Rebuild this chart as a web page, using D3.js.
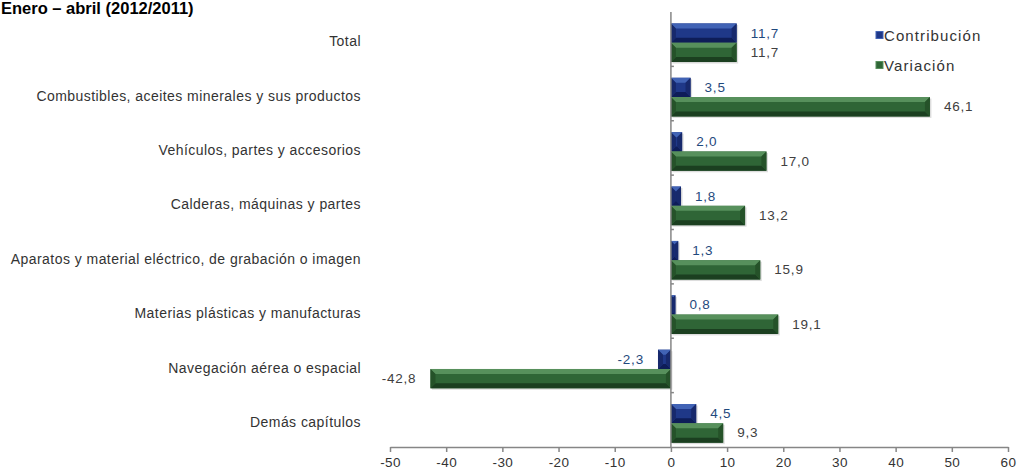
<!DOCTYPE html>
<html>
<head>
<meta charset="utf-8">
<script src="https://cdn.jsdelivr.net/npm/d3@7"></script>
<style>
  html, body { margin: 0; padding: 0; background: #fff; }
  svg { display: block; font-family: "Liberation Sans", Arial, sans-serif; }
</style>
</head>
<body>
<svg id="chart" width="1019" height="471"></svg>
<script>
const title = "Enero – abril (2012/2011)";
const categories = [
  "Total",
  "Combustibles, aceites minerales y sus productos",
  "Vehículos, partes y accesorios",
  "Calderas, máquinas y partes",
  "Aparatos y material eléctrico, de grabación o imagen",
  "Materias plásticas y manufacturas",
  "Navegación aérea o espacial",
  "Demás capítulos"
];
const seriesNames = ["Contribución", "Variación"];
const contribucion = [11.7, 3.5, 2.0, 1.8, 1.3, 0.8, -2.3, 4.5];
const variacion = [11.7, 46.1, 17.0, 13.2, 15.9, 19.1, -42.8, 9.3];
const xTicks = [-50, -40, -30, -20, -10, 0, 10, 20, 30, 40, 50, 60];

const svg = d3.select("#chart");

const x = d3.scaleLinear().domain([-50, 60]).range([390, 1008]);
const y0 = d3.scaleBand().domain(categories).range([12, 447]).paddingInner(0).paddingOuter(0);
const bw = y0.bandwidth();
const y1 = d3.scaleBand().domain(seriesNames).range([bw * 0.21, bw * 0.92]);

const fmt = v => d3.format(".1f")(v).replace(".", ",").replace("−", "-");

const palette = {
  "Contribución": { top: "#4163b5", face: "#1f3888", bottom: "#0e1d58", side: "#17296c", label: "#1f497d" },
  "Variación":    { top: "#57905c", face: "#2f6536", bottom: "#1b3f20", side: "#255229", label: "#404040" }
};

// Title
svg.append("text")
  .attr("x", 1).attr("y", 14)
  .attr("font-size", 16.5).attr("font-weight", "bold").attr("fill", "#000")
  .text(title);

// Category labels
svg.append("g").selectAll("text")
  .data(categories).join("text")
  .attr("x", 361)
  .attr("y", d => y0(d) + bw * 0.54)
  .attr("text-anchor", "end")
  .attr("dominant-baseline", "central")
  .attr("font-size", 14)
  .attr("letter-spacing", 0.45)
  .attr("fill", "#333")
  .text(d => d);

// Bars with bevel
function bevelBar(g, x0, yy, w, h, c) {
  const b = Math.max(0, Math.min(5, w / 2, h / 2));
  const X1 = x0, X2 = x0 + w, Y1 = yy, Y2 = yy + h;
  const P = pts => pts.map(p => p.join(",")).join(" ");
  g.append("rect").attr("x", X1 + 1.5).attr("y", Y1 + 1.5).attr("width", w).attr("height", h)
    .attr("fill", "#bbb").attr("opacity", 0.5);
  g.append("rect").attr("x", X1).attr("y", Y1).attr("width", w).attr("height", h).attr("fill", c.face);
  g.append("polygon").attr("points", P([[X1, Y1], [X2, Y1], [X2 - b, Y1 + b], [X1 + b, Y1 + b]])).attr("fill", c.top);
  g.append("polygon").attr("points", P([[X1, Y2], [X2, Y2], [X2 - b, Y2 - b], [X1 + b, Y2 - b]])).attr("fill", c.bottom);
  g.append("polygon").attr("points", P([[X1, Y1], [X1 + b, Y1 + b], [X1 + b, Y2 - b], [X1, Y2]])).attr("fill", c.side);
  g.append("polygon").attr("points", P([[X2, Y1], [X2 - b, Y1 + b], [X2 - b, Y2 - b], [X2, Y2]])).attr("fill", c.side);
}

const rows = categories.map((cat, i) => ({
  cat,
  vals: [
    { s: "Contribución", v: contribucion[i] },
    { s: "Variación", v: variacion[i] }
  ]
}));

const barsG = svg.append("g");
rows.forEach(r => {
  r.vals.forEach(d => {
    const c = palette[d.s];
    const xa = x(Math.min(0, d.v)), xb = x(Math.max(0, d.v));
    const yy = y0(r.cat) + y1(d.s);
    const h = y1.bandwidth();
    bevelBar(barsG, xa, yy, xb - xa, h, c);
    barsG.append("text")
      .attr("x", d.v >= 0 ? x(d.v) + 14 : x(d.v) - 14)
      .attr("y", yy + h / 2)
      .attr("text-anchor", d.v >= 0 ? "start" : "end")
      .attr("dominant-baseline", "central")
      .attr("font-size", 13.5)
      .attr("letter-spacing", 0.8)
      .attr("fill", c.label)
      .text(fmt(d.v));
  });
});

// X axis
const xAxis = svg.append("g").attr("transform", "translate(0,447)")
  .call(d3.axisBottom(x).tickValues(xTicks).tickSize(5).tickSizeOuter(0).tickFormat(d => String(d)));
xAxis.select(".domain").attr("stroke", "#868686").attr("stroke-width", 1.5);
xAxis.selectAll(".tick line").attr("stroke", "#868686").attr("stroke-width", 1.5);
xAxis.selectAll(".tick text")
  .attr("font-size", 13.5).attr("fill", "#333").attr("dy", "0.9em")
  .attr("font-family", "Liberation Sans, Arial, sans-serif").attr("letter-spacing", 0.4);

// Y axis (category axis at zero)
const yAxis = svg.append("g").attr("transform", `translate(${x(0)},0)`);
yAxis.append("line").attr("x1", 0).attr("x2", 0).attr("y1", 12).attr("y2", 447)
  .attr("stroke", "#868686").attr("stroke-width", 1.5);
yAxis.selectAll("line.tk").data(categories.slice(1)).join("line").attr("class", "tk")
  .attr("x1", 0).attr("x2", 3).attr("y1", d => y0(d)).attr("y2", d => y0(d))
  .attr("stroke", "#868686").attr("stroke-width", 1.5);

// Legend
const legend = svg.append("g");
seriesNames.forEach((s, i) => {
  const ly = 35 + i * 30;
  legend.append("rect").attr("x", 876).attr("y", ly - 3.5).attr("width", 7).attr("height", 7)
    .attr("fill", palette[s].face).attr("stroke", palette[s].top).attr("stroke-width", 1);
  legend.append("text").attr("x", 884).attr("y", ly)
    .attr("dominant-baseline", "central")
    .attr("font-size", 15).attr("letter-spacing", 1.1).attr("fill", "#333")
    .text(s);
});
</script>
</body>
</html>
